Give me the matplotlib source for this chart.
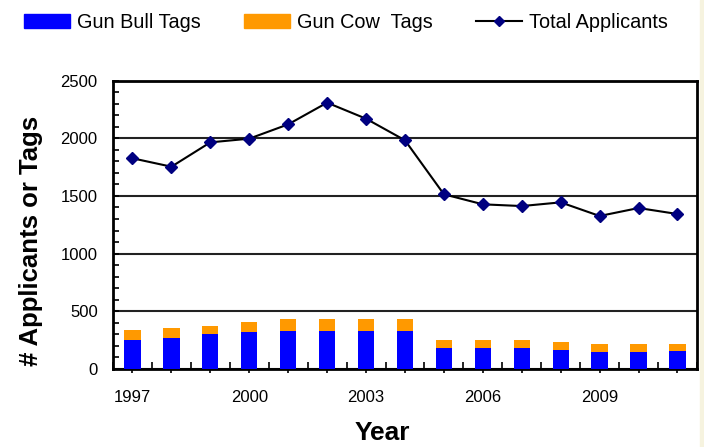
import numpy as np
import matplotlib
matplotlib.use("Agg")
import matplotlib.pyplot as plt
from matplotlib.lines import Line2D
from matplotlib.patches import Patch, Rectangle

plt.rcParams['font.family'] = ['Liberation Sans', 'DejaVu Sans']

years = list(range(1997, 2012))
bull_tags = [252, 270, 304, 322, 330, 330, 330, 330, 183, 183, 183, 165, 148, 148, 157]
cow_tags = [87, 87, 70, 87, 105, 105, 105, 105, 69, 69, 69, 70, 69, 69, 60]
total_applicants = [1826, 1753, 1964, 1996, 2120, 2308, 2169, 1982,
                    1514, 1427, 1412, 1444, 1326, 1395, 1343]
tick_years = [1997, 2000, 2003, 2006, 2009]

fig = plt.figure(figsize=(7.04, 4.47), dpi=100)
fig.patches.append(Rectangle((0.994, 0), 0.006, 1, transform=fig.transFigure,
                             color='#F6F3DF', zorder=0))
ax = fig.add_axes([0.1605, 0.1745, 0.8295, 0.6454])

x = np.arange(len(years))
ax.bar(x, bull_tags, width=0.42, color='#0000FF', zorder=3)
ax.bar(x, cow_tags, width=0.42, bottom=bull_tags, color='#FF9900', zorder=3)
ax.plot(x, total_applicants, color='black', lw=1.5, marker='D', markersize=6,
        markerfacecolor='#000080', markeredgecolor='#000080', zorder=4)

ax.set_xlim(-0.5, len(years) - 0.5)
ax.set_ylim(0, 2500)
ax.set_yticks(range(0, 2501, 500))
ax.set_yticks(range(0, 2501, 100), minor=True)
ax.grid(axis='y', which='major', color='#222222', lw=1.5, zorder=1)

ax.set_xticks(x)
ax.set_xticklabels([str(y) if y in tick_years else '' for y in years])
ax.set_xticks(np.arange(-0.5, len(years), 1), minor=True)

ax.tick_params(axis='y', which='both', direction='in', length=4, width=1.2,
               labelsize=12, pad=11)
ax.tick_params(axis='x', which='major', direction='out', length=3, width=1.2,
               labelsize=12, pad=12)
ax.tick_params(axis='x', which='minor', direction='in', length=5, width=1.2)

for s in ax.spines.values():
    s.set_linewidth(2)
    s.set_color('black')

ax.set_ylabel('# Applicants or Tags', fontsize=18.5, fontweight='bold')
ax.yaxis.set_label_coords(-0.12, 0.444)
ax.set_xlabel('Year', fontsize=19, fontweight='bold')
ax.xaxis.set_label_coords(0.4606, -0.18)

handles = [Patch(color='#0000FF'), Patch(color='#FF9900'),
           Line2D([], [], color='black', lw=1.5, marker='D', markersize=5,
                  markerfacecolor='#000080', markeredgecolor='#000080')]
labels = ['Gun Bull Tags', 'Gun Cow  Tags', 'Total Applicants']
fig.legend(handles, labels, loc='center left', bbox_to_anchor=(0.034, 0.950),
           ncol=3, frameon=False, fontsize=14.3, handlelength=2.3,
           handleheight=0.7, handletextpad=0.35, columnspacing=2.2,
           borderpad=0, borderaxespad=0)

fig.savefig('out.png', dpi=100)
